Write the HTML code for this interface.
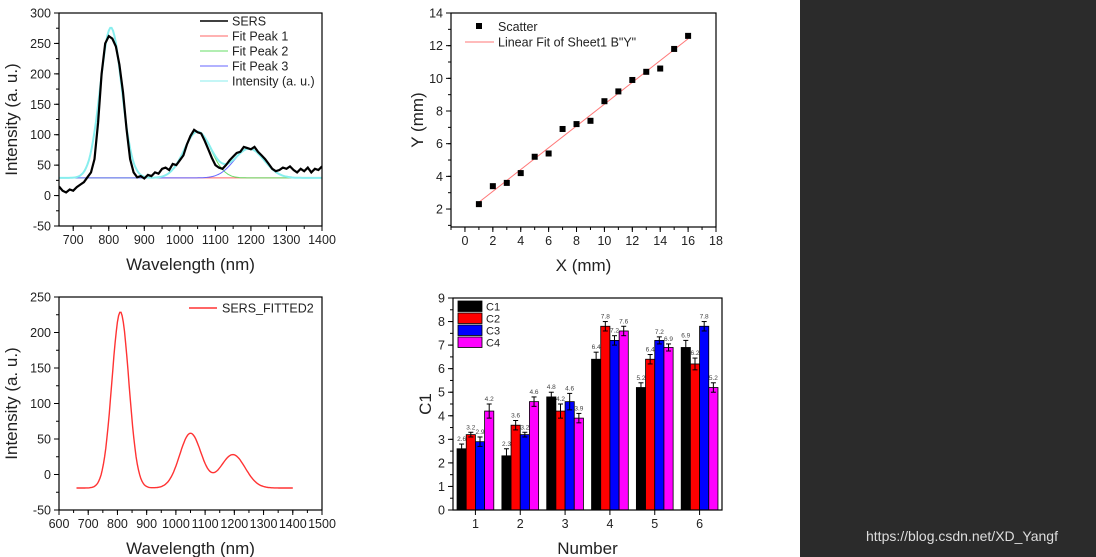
<!DOCTYPE html>
<html><head><meta charset="utf-8">
<style>
html,body{margin:0;padding:0;background:#fff;}
body{width:1096px;height:557px;overflow:hidden;position:relative;font-family:"Liberation Sans",Arial,sans-serif;}
#dark{position:absolute;left:800px;top:0;width:296px;height:557px;background:#2b2b2b;}
#wm{position:absolute;left:866px;top:528px;color:#ddd;font-size:14px;}
svg{position:absolute;left:0;top:0;}
</style></head><body>
<div id="dark"></div>
<div id="wm">https://blog.csdn.net/XD_Yangf</div>
<svg id="s" width="800" height="557"></svg>
<script>
// ---------- data ----------
const sersX0 = 660, sersStep = 10;
const sersValues = [15,8,5,10,8,14,18,22,30,38,60,120,200,250,262,258,245,215,170,110,60,38,30,32,28,34,32,38,36,44,46,42,52,50,58,66,84,98,108,104,102,90,76,62,50,46,44,50,58,64,70,72,80,78,76,80,72,66,60,52,44,40,42,46,44,48,42,38,44,40,46,38,44,42,48];
const fitBaseline = 29;
const fitCenters = [806, 1050, 1195];
const fitAmps = [247, 76, 48];
const fitSigmas = [30, 38, 42];
const legendTL = ["SERS","Fit Peak 1","Fit Peak 2","Fit Peak 3","Intensity (a. u.)"];

const scatterX = [1,2,3,4,5,6,7,8,9,10,11,12,13,14,15,16];
const scatterY = [2.3,3.4,3.6,4.2,5.2,5.4,6.9,7.2,7.4,8.6,9.2,9.9,10.4,10.6,11.8,12.6];

const fitted2Offset = -19;
const fitted2Centers = [810, 1050, 1195];
const fitted2Amps = [248, 77, 47];
const fitted2Sigmas = [29, 37, 42];

const barCategories = ["1","2","3","4","5","6"];
const barSeriesNames = ["C1","C2","C3","C4"];
const barC1 = [2.6,2.3,4.8,6.4,5.2,6.9];
const barC2 = [3.2,3.6,4.2,7.8,6.4,6.2];
const barC3 = [2.9,3.2,4.6,7.2,7.2,7.8];
const barC4 = [4.2,4.6,3.9,7.6,6.9,5.2];
const barErr1 = [0.2,0.3,0.2,0.3,0.2,0.3];
const barErr2 = [0.1,0.2,0.3,0.2,0.2,0.25];
const barErr3 = [0.2,0.1,0.35,0.2,0.15,0.2];
const barErr4 = [0.3,0.2,0.2,0.2,0.15,0.2];

const tlXTicks = [700,800,900,1000,1100,1200,1300,1400];
const tlYTicks = [-50,0,50,100,150,200,250,300];
const trXTicks = [0,2,4,6,8,10,12,14,16,18];
const trYTicks = [2,4,6,8,10,12,14];
const blXTicks = [600,700,800,900,1000,1100,1200,1300,1400,1500];
const blYTicks = [-50,0,50,100,150,200,250];
const brYTicks = [0,1,2,3,4,5,6,7,8,9];

// ---------- helpers ----------
const svg = document.getElementById('s');
const NS = 'http://www.w3.org/2000/svg';
function mk(tag, attrs, parent, text){
  const e = document.createElementNS(NS, tag);
  for (const k in attrs) e.setAttribute(k, attrs[k]);
  if (text !== undefined) e.textContent = text;
  (parent||svg).appendChild(e);
  return e;
}
function scale(d0,d1,r0,r1){ return v => r0 + (v-d0)/(d1-d0)*(r1-r0); }
function frame(g, L,T,R,B, xs, ys, xt, yt, xminor, yminor, xlab, ylab, xdom, ydom, catLabels, yoff){
  const box = mk('rect',{x:L,y:T,width:R-L,height:B-T,fill:'none',stroke:'#000','stroke-width':1.2},g);
   
  xt.forEach((v,i)=>{ const x=xs(v);
    mk('line',{x1:x,y1:B,x2:x,y2:B+5,stroke:'#000'},g);
    const t=mk('text',{x:x,y:B+18,'text-anchor':'middle','font-size':12.5,fill:'#222'},g,catLabels?catLabels[i]:String(v));
     
  });
  if (xminor) for(let v=xdom[0]; v<=xdom[1]+1e-9; v+=xminor){ mk('line',{x1:xs(v),y1:B,x2:xs(v),y2:B+3,stroke:'#000'},g); }
  yt.forEach(v=>{ const y=ys(v);
    mk('line',{x1:L,y1:y,x2:L-5,y2:y,stroke:'#000'},g);
    const t=mk('text',{x:L-8,y:y+4.5,'text-anchor':'end','font-size':12.5,fill:'#222'},g,String(v));
     
  });
  if (yminor) for(let v=ydom[0]; v<=ydom[1]+1e-9; v+=yminor){ mk('line',{x1:L,y1:ys(v),x2:L-3,y2:ys(v),stroke:'#000'},g); }
  const xl=mk('text',{x:(L+R)/2,y:B+44,'text-anchor':'middle','font-size':17,fill:'#222'},g,xlab);
   
  const cy=(T+B)/2;
  const yl=mk('text',{x:0,y:0,'text-anchor':'middle','font-size':17,fill:'#222',transform:`translate(${L-(yoff||42)},${cy}) rotate(-90)`},g,ylab);
   
}
function gauss(x,c,a,s){ return a*Math.exp(-0.5*((x-c)/s)**2); }

// ---------- top-left ----------
{
  const g=mk('g',{});  
  const L=59,T=13,R=322,B=226;
  const xs=scale(660,1400,L,R), ys=scale(-50,300,B,T);
  const clip=mk('clipPath',{id:'c1'},g); mk('rect',{x:L,y:T,width:R-L,height:B-T},clip);
  const pg=mk('g',{'clip-path':'url(#c1)'},g);
  const colors=['#ff6666','#66dd66','#6666ff'];
  function curvePts(fn){ let p=[]; for(let x=660;x<=1400;x+=4) p.push(xs(x).toFixed(1)+','+ys(fn(x)).toFixed(1)); return p.join(' '); }
  fitCenters.forEach((c,i)=>{
    const l=mk('polyline',{points:curvePts(x=>fitBaseline+gauss(x,c,fitAmps[i],fitSigmas[i])),fill:'none',stroke:colors[i],'stroke-width':1},pg);
     
  });
  const cum=mk('polyline',{points:curvePts(x=>fitBaseline+fitCenters.reduce((s,c,i)=>s+gauss(x,c,fitAmps[i],fitSigmas[i]),0)),fill:'none',stroke:'#88eeee','stroke-width':2},pg);
   
  const sp=sersValues.map((v,i)=>xs(sersX0+i*sersStep).toFixed(1)+','+ys(v).toFixed(1)).join(' ');
  const sl=mk('polyline',{points:sp,fill:'none',stroke:'#000','stroke-width':2.2,'stroke-linejoin':'miter'},pg);
   
  frame(g,L,T,R,B,xs,ys,tlXTicks,tlYTicks,50,25,'Wavelength (nm)','Intensity (a. u.)',[700,1400],[-50,300],null,42);
  const lc=['#000','#ff6666','#66dd66','#6666ff','#88eeee'];
  legendTL.forEach((n,i)=>{ const y=21+i*15;
    mk('line',{x1:200,y1:y,x2:228,y2:y,stroke:lc[i],'stroke-width':i==0?1.5:1},g);
    const t=mk('text',{x:232,y:y+4.5,'font-size':12.5,fill:'#222'},g,n);
     
  });
}
// ---------- top-right ----------
{
  const g=mk('g',{});  
  const L=451,T=13,R=716,B=227;
  const xs=scale(-1,18,L,R), ys=scale(0.9,14,B,T);
  const n=scatterX.length, mx=scatterX.reduce((a,b)=>a+b)/n, my=scatterY.reduce((a,b)=>a+b)/n;
  let sxy=0,sxx=0; scatterX.forEach((x,i)=>{sxy+=(x-mx)*(scatterY[i]-my); sxx+=(x-mx)**2;});
  const k=sxy/sxx, b=my-k*mx, x0=Math.min(...scatterX), x1=Math.max(...scatterX);
  const fl=mk('line',{x1:xs(x0),y1:ys(k*x0+b),x2:xs(x1),y2:ys(k*x1+b),stroke:'#ff7777','stroke-width':1},g);
   
  scatterX.forEach((x,i)=>{ const r=mk('rect',{x:xs(x)-3,y:ys(scatterY[i])-3,width:6,height:6,fill:'#000'},g);
      });
  frame(g,L,T,R,B,xs,ys,trXTicks,trYTicks,1,1,'X (mm)','Y (mm)',[-1,18],[1,14],null,28);
  mk('rect',{x:476,y:23,width:6,height:6,fill:'#000'},g);
  const t1=mk('text',{x:498,y:31,'font-size':12.5,fill:'#222'},g,'Scatter');
   
  mk('line',{x1:465,y1:42,x2:494,y2:42,stroke:'#ff7777'},g);
  const t2=mk('text',{x:498,y:46.5,'font-size':12.5,fill:'#222'},g,'Linear Fit of Sheet1 B"Y"');
   
}
// ---------- bottom-left ----------
{
  const g=mk('g',{});  
  const L=59,T=297,R=322,B=510;
  const xs=scale(600,1500,L,R), ys=scale(-50,250,B,T);
  let p=[]; for(let x=660;x<=1400;x+=4){ const y=fitted2Offset+fitted2Centers.reduce((s,c,i)=>s+gauss(x,c,fitted2Amps[i],fitted2Sigmas[i]),0); p.push(xs(x).toFixed(1)+','+ys(y).toFixed(1)); }
  const l=mk('polyline',{points:p.join(' '),fill:'none',stroke:'#ff3333','stroke-width':1.4},g);
   
  frame(g,L,T,R,B,xs,ys,blXTicks,blYTicks,50,25,'Wavelength (nm)','Intensity (a. u.)',[600,1500],[-50,250],null,42);
  mk('line',{x1:189,y1:308,x2:217,y2:308,stroke:'#ff3333','stroke-width':1.4},g);
  const t=mk('text',{x:222,y:312.5,'font-size':12.5,fill:'#222'},g,'SERS_FITTED2');
   
}
// ---------- bottom-right ----------
{
  const g=mk('g',{});  
  const L=453,T=298,R=722,B=510;
  const xs=scale(0.5,6.5,L,R), ys=scale(0,9,B,T);
  const series=[barC1,barC2,barC3,barC4], errs=[barErr1,barErr2,barErr3,barErr4];
  const cols=['#000','#ff0000','#0000ff','#ff00ff'];
  const bw=0.205*(xs(1)-xs(0));
  barCategories.forEach((c,ci)=>{
    series.forEach((s,si)=>{
      const xc=xs(ci+1)+(si-1.5)*bw, v=s[ci], e=errs[si][ci];
      const r=mk('rect',{x:xc-bw/2,y:ys(v),width:bw,height:B-ys(v),fill:cols[si],stroke:'#000','stroke-width':0.8},g);
       
      mk('line',{x1:xc,y1:ys(v+e),x2:xc,y2:ys(v-e),stroke:'#000'},g);
      mk('line',{x1:xc-2.5,y1:ys(v+e),x2:xc+2.5,y2:ys(v+e),stroke:'#000'},g);
      mk('line',{x1:xc-2.5,y1:ys(v-e),x2:xc+2.5,y2:ys(v-e),stroke:'#000'},g);
      const t=mk('text',{x:xc,y:ys(v+e)-3,'text-anchor':'middle','font-size':6.5,fill:'#444'},g,v.toFixed(1));
       
    });
  });
  frame(g,L,T,R,B,xs,ys,[1,2,3,4,5,6],brYTicks,0,0.5,'Number','C1',[0.5,6.5],[0,9],barCategories,22);
  barSeriesNames.forEach((n,i)=>{ const y=301+i*12;
    mk('rect',{x:458,y:y,width:24,height:10.5,fill:cols[i],stroke:'#000','stroke-width':0.8},g);
    const t=mk('text',{x:486,y:y+9.5,'font-size':11,fill:'#222'},g,n);
     
  });
}
</script>
</body></html>
